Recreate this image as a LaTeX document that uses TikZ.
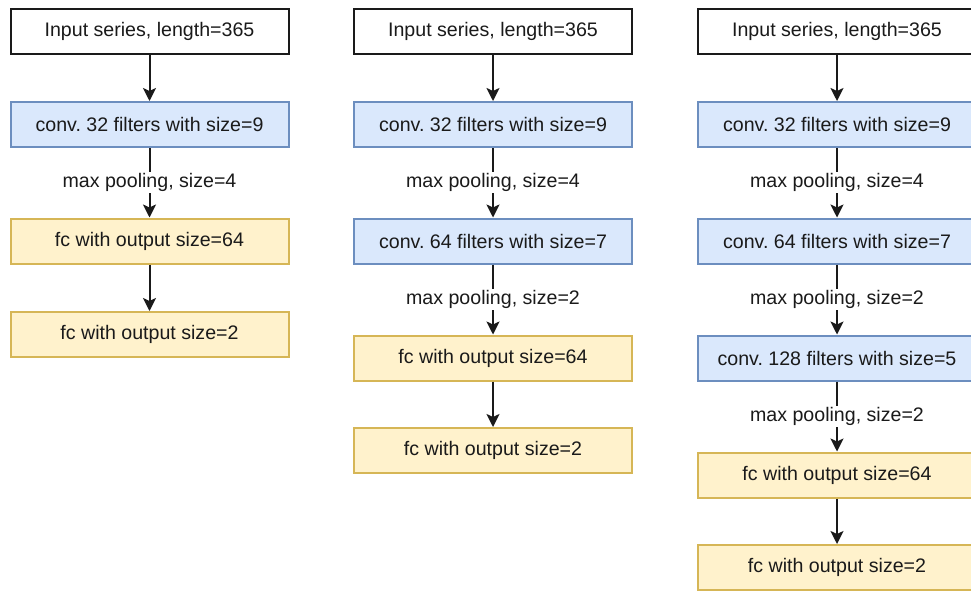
\documentclass[tikz,border=0pt]{standalone}
\usepackage{fontspec}
\setmainfont{Liberation Sans}
\usetikzlibrary{arrows.meta}
\frenchspacing
\definecolor{convfill}{HTML}{DAE8FC}
\definecolor{convline}{HTML}{6C8EBF}
\definecolor{fcfill}{HTML}{FFF2CC}
\definecolor{fcline}{HTML}{D6B656}
\definecolor{ink}{HTML}{1A1A1A}
\begin{document}
\begin{tikzpicture}[x=1pt,y=-1pt,
  box/.style={rectangle, minimum width=278pt, minimum height=45pt, inner sep=0pt,
    line width=2pt, font=\fontsize{19.6}{23}\selectfont, text=ink},
  inbox/.style={box, draw=ink, fill=white},
  convbox/.style={box, draw=convline, fill=convfill},
  fcbox/.style={box, draw=fcline, fill=fcfill},
  arr/.style={draw=ink, line width=2pt, -{Stealth[length=13pt,width=13pt,inset=3pt]}},
  pool/.style={fill=white, inner sep=1.5pt, font=\fontsize{19.6}{23}\selectfont, text=ink}]
\useasboundingbox (0,0) rectangle (971,590);
\clip (0,0) rectangle (971,590);

% ---- network A: one convolution ----
\node[inbox]   (a1) at (149.5,31)    {Input series, length=365};
\node[convbox] (a2) at (149.5,124.5) {conv. 32 filters with size=9};
\node[fcbox]   (a3) at (149.5,241)   {fc with output size=64};
\node[fcbox]   (a4) at (149.5,334.5) {fc with output size=2};
\draw[arr] (a1) -- (a2);
\draw[arr] (a2) -- node[pool] {max pooling, size=4} (a3);
\draw[arr] (a3) -- (a4);

% ---- network B: two convolutions ----
\node[inbox]   (b1) at (493,31)    {Input series, length=365};
\node[convbox] (b2) at (493,124.5) {conv. 32 filters with size=9};
\node[convbox] (b3) at (493,241)   {conv. 64 filters with size=7};
\node[fcbox]   (b4) at (493,358)   {fc with output size=64};
\node[fcbox]   (b5) at (493,450.5) {fc with output size=2};
\draw[arr] (b1) -- (b2);
\draw[arr] (b2) -- node[pool] {max pooling, size=4} (b3);
\draw[arr] (b3) -- node[pool] {max pooling, size=2} (b4);
\draw[arr] (b4) -- (b5);

% ---- network C: three convolutions ----
\node[inbox]   (c1) at (837,31)    {Input series, length=365};
\node[convbox] (c2) at (837,124.5) {conv. 32 filters with size=9};
\node[convbox] (c3) at (837,241)   {conv. 64 filters with size=7};
\node[convbox] (c4) at (837,358)   {conv. 128 filters with size=5};
\node[fcbox]   (c5) at (837,475)   {fc with output size=64};
\node[fcbox]   (c6) at (837,567.5) {fc with output size=2};
\draw[arr] (c1) -- (c2);
\draw[arr] (c2) -- node[pool] {max pooling, size=4} (c3);
\draw[arr] (c3) -- node[pool] {max pooling, size=2} (c4);
\draw[arr] (c4) -- node[pool] {max pooling, size=2} (c5);
\draw[arr] (c5) -- (c6);
\end{tikzpicture}
\end{document}
